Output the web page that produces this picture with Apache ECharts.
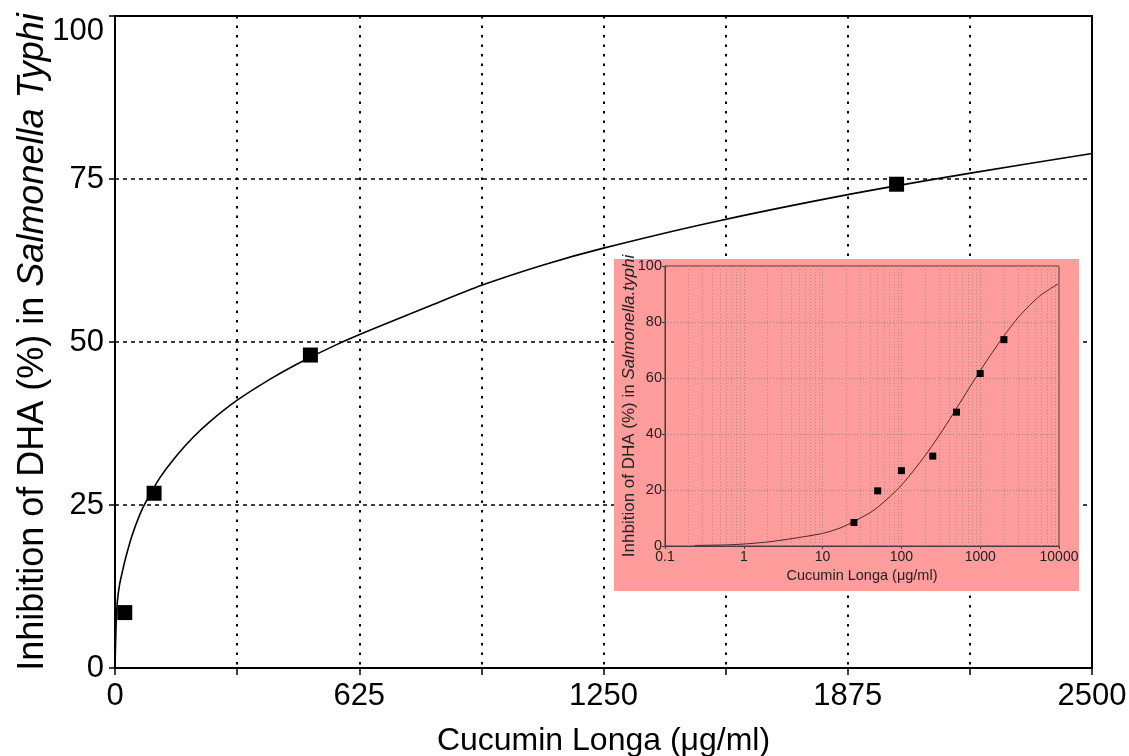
<!DOCTYPE html>
<html>
<head>
<meta charset="utf-8">
<script src="https://cdn.jsdelivr.net/npm/echarts@6/dist/echarts.min.js"></script>
<style>
html,body{margin:0;padding:0;background:#fff;}
#chart{width:1129px;height:756px;}
</style>
</head>
<body>
<div id="chart"></div>
<script>
// ---- Main chart data ----
var mainConc = [25, 100, 500, 2000];
var mainInhib = [8.5, 26.8, 48.0, 74.2];
var curveConc = [0, 3, 6, 12, 19, 26, 43, 64, 81, 115, 158, 200, 243, 311, 397, 465, 567, 652, 800, 938, 1100, 1250, 1523, 1875, 2189, 2500];
var curveInhib = [0, 7, 10.2, 12.9, 14.8, 16.6, 20.2, 23.6, 25.7, 29.2, 32.6, 35.4, 37.8, 41.0, 44.3, 46.6, 49.6, 51.8, 55.4, 58.7, 61.9, 64.4, 68.3, 72.6, 75.9, 78.9];
var xTickLabels = [0, 625, 1250, 1875, 2500];
var yTickLabels = [0, 25, 50, 75, 100];

// ---- Inset data ----
var insetConc = [25, 50, 100, 250, 500, 1000, 2000];
var insetInhib = [8.4, 19.7, 26.9, 32.1, 47.8, 61.6, 73.7];
var insetCurveConc = [0.24, 0.6, 1, 2.1, 4.2, 10, 16.6, 24.4, 40, 53, 95, 155, 240, 372, 550, 812, 1200, 1950, 3160, 5690, 9700];
var insetCurveInhib = [0.2, 0.4, 0.7, 1.5, 2.7, 4.5, 6.4, 8.6, 11.9, 14.4, 21.0, 28.2, 35.4, 43.4, 51.0, 58.6, 66.0, 74.6, 82.2, 89.3, 93.6];
var insetXTickLabels = ['0.1', '1', '10', '100', '1000', '10000'];

var FONT = "'Liberation Sans', Arial, sans-serif";

function zip(a, b) { return a.map(function (v, i) { return [v, b[i]]; }); }

// minor log gridline positions (2..9 within each decade)
var minorLog = [];
[0.1, 1, 10, 100, 1000].forEach(function (d) {
  for (var k = 2; k <= 9; k++) minorLog.push(+(k * d).toPrecision(6));
});

var chart = echarts.init(document.getElementById('chart'), null, {renderer: 'canvas'});
chart.setOption({
  animation: false,
  backgroundColor: '#ffffff',
  grid: [
    {left: 115, right: 37, top: 16, bottom: 88, show: true, borderColor: '#000', borderWidth: 2, backgroundColor: 'transparent', outerBoundsMode: 'none', containLabel: false},
    {left: 665, right: 70, top: 266, bottom: 210, show: true, borderColor: '#4a3a3a', borderWidth: 1, backgroundColor: 'transparent', z: 5, outerBoundsMode: 'none', containLabel: false}
  ],
  graphic: {
    elements: [{
      type: 'rect', left: 614, top: 259, z: 1,
      shape: {width: 465, height: 332},
      style: {fill: '#ff9c9c'}
    }]
  },
  xAxis: [
    {
      gridIndex: 0, type: 'value', min: 0, max: 2500, interval: 312.5,
      axisLine: {show: true, lineStyle: {color: '#000', width: 2}},
      axisTick: {show: true, inside: false, length: 7, lineStyle: {color: '#000', width: 1.5}},
      axisLabel: {
        color: '#000', fontSize: 31, fontFamily: FONT, margin: 13,
        formatter: function (v) { return xTickLabels.indexOf(v) >= 0 ? String(v) : ''; }
      },
      splitLine: {show: true, lineStyle: {color: '#000', width: 2, type: [2.5, 7]}},
      name: 'Cucumin Longa (\u03bcg/ml)', nameLocation: 'middle', nameGap: 57,
      nameMoveOverlap: false,
      nameTextStyle: {color: '#000', fontSize: 32, fontFamily: FONT}
    },
    {
      gridIndex: 1, type: 'log', logBase: 10, min: 0.1, max: 10000, z: 6,
      axisLine: {show: true, lineStyle: {color: '#4a3a3a', width: 1}},
      axisTick: {show: true, inside: false, length: 3, lineStyle: {color: '#4a3a3a'}},
      axisLabel: {
        color: '#222', fontSize: 14, fontFamily: FONT, margin: 4,
        formatter: function (v) {
          var s = String(+v.toPrecision(6));
          return insetXTickLabels.indexOf(s) >= 0 ? s : '';
        }
      },
      splitLine: {show: true, lineStyle: {color: '#b57a7a', width: 1, type: [1, 2]}},
      name: 'Cucumin Longa (\u03bcg/ml)', nameLocation: 'middle', nameGap: 22,
      nameMoveOverlap: false,
      nameTextStyle: {color: '#222', fontSize: 14.5, fontFamily: FONT}
    }
  ],
  yAxis: [
    {
      gridIndex: 0, type: 'value', min: 0, max: 100, interval: 25,
      axisLine: {show: true, lineStyle: {color: '#000', width: 2}},
      axisTick: {show: true, inside: false, length: 6, lineStyle: {color: '#000', width: 1.5}},
      axisLabel: {
        color: '#000', fontSize: 31, fontFamily: FONT, margin: 11,
        verticalAlignMaxLabel: 'top',
        formatter: function (v) { return yTickLabels.indexOf(v) >= 0 ? String(v) : ''; }
      },
      splitLine: {show: true, lineStyle: {color: '#000', width: 1.5, type: [4, 4]}},
      name: '{n|Inhibition of DHA (%) in }{i|Salmonella Typhi}',
      nameLocation: 'middle', nameGap: 64, nameRotate: 90,
      nameMoveOverlap: false,
      nameTextStyle: {
        color: '#000', fontSize: 36, fontFamily: FONT,
        rich: {
          n: {color: '#000', fontSize: 36, fontFamily: FONT},
          i: {color: '#000', fontSize: 36, fontFamily: FONT, fontStyle: 'italic'}
        }
      }
    },
    {
      gridIndex: 1, type: 'value', min: 0, max: 100, interval: 20, z: 6,
      axisLine: {show: true, lineStyle: {color: '#4a3a3a', width: 1}},
      axisTick: {show: true, inside: false, length: 3, lineStyle: {color: '#4a3a3a'}},
      axisLabel: {color: '#222', fontSize: 14.5, fontFamily: FONT, margin: 3},
      splitLine: {show: true, lineStyle: {color: '#b57a7a', width: 1, type: [1, 2]}},
      name: '{n|Inhbition of DHA (%) in }{i|Salmonella.typhi}',
      nameLocation: 'middle', nameGap: 27, nameRotate: 90,
      nameMoveOverlap: false,
      nameTextStyle: {
        color: '#222', fontSize: 17, fontFamily: FONT,
        rich: {
          n: {color: '#222', fontSize: 17, fontFamily: FONT},
          i: {color: '#222', fontSize: 17, fontFamily: FONT, fontStyle: 'italic'}
        }
      }
    }
  ],
  series: [
    {
      type: 'line', xAxisIndex: 0, yAxisIndex: 0, z: 3,
      data: zip(curveConc, curveInhib), showSymbol: false, smooth: 0.25,
      lineStyle: {color: '#000', width: 1.6}
    },
    {
      type: 'scatter', xAxisIndex: 0, yAxisIndex: 0, z: 4,
      data: zip(mainConc, mainInhib), symbol: 'rect', symbolSize: 15,
      itemStyle: {color: '#000', opacity: 1}
    },
    {
      type: 'line', xAxisIndex: 1, yAxisIndex: 1, z: 7,
      data: zip(insetCurveConc, insetCurveInhib), showSymbol: false, smooth: 0.25,
      lineStyle: {color: '#4a2626', width: 1},
      markLine: {
        silent: true, symbol: 'none', animation: false,
        label: {show: false},
        lineStyle: {color: '#c98585', width: 1, type: [1, 2]},
        data: minorLog.map(function (v) { return {xAxis: v}; })
      }
    },
    {
      type: 'scatter', xAxisIndex: 1, yAxisIndex: 1, z: 8,
      data: zip(insetConc, insetInhib), symbol: 'rect', symbolSize: 7,
      itemStyle: {color: '#000', opacity: 1}
    }
  ]
});
</script>
</body>
</html>
